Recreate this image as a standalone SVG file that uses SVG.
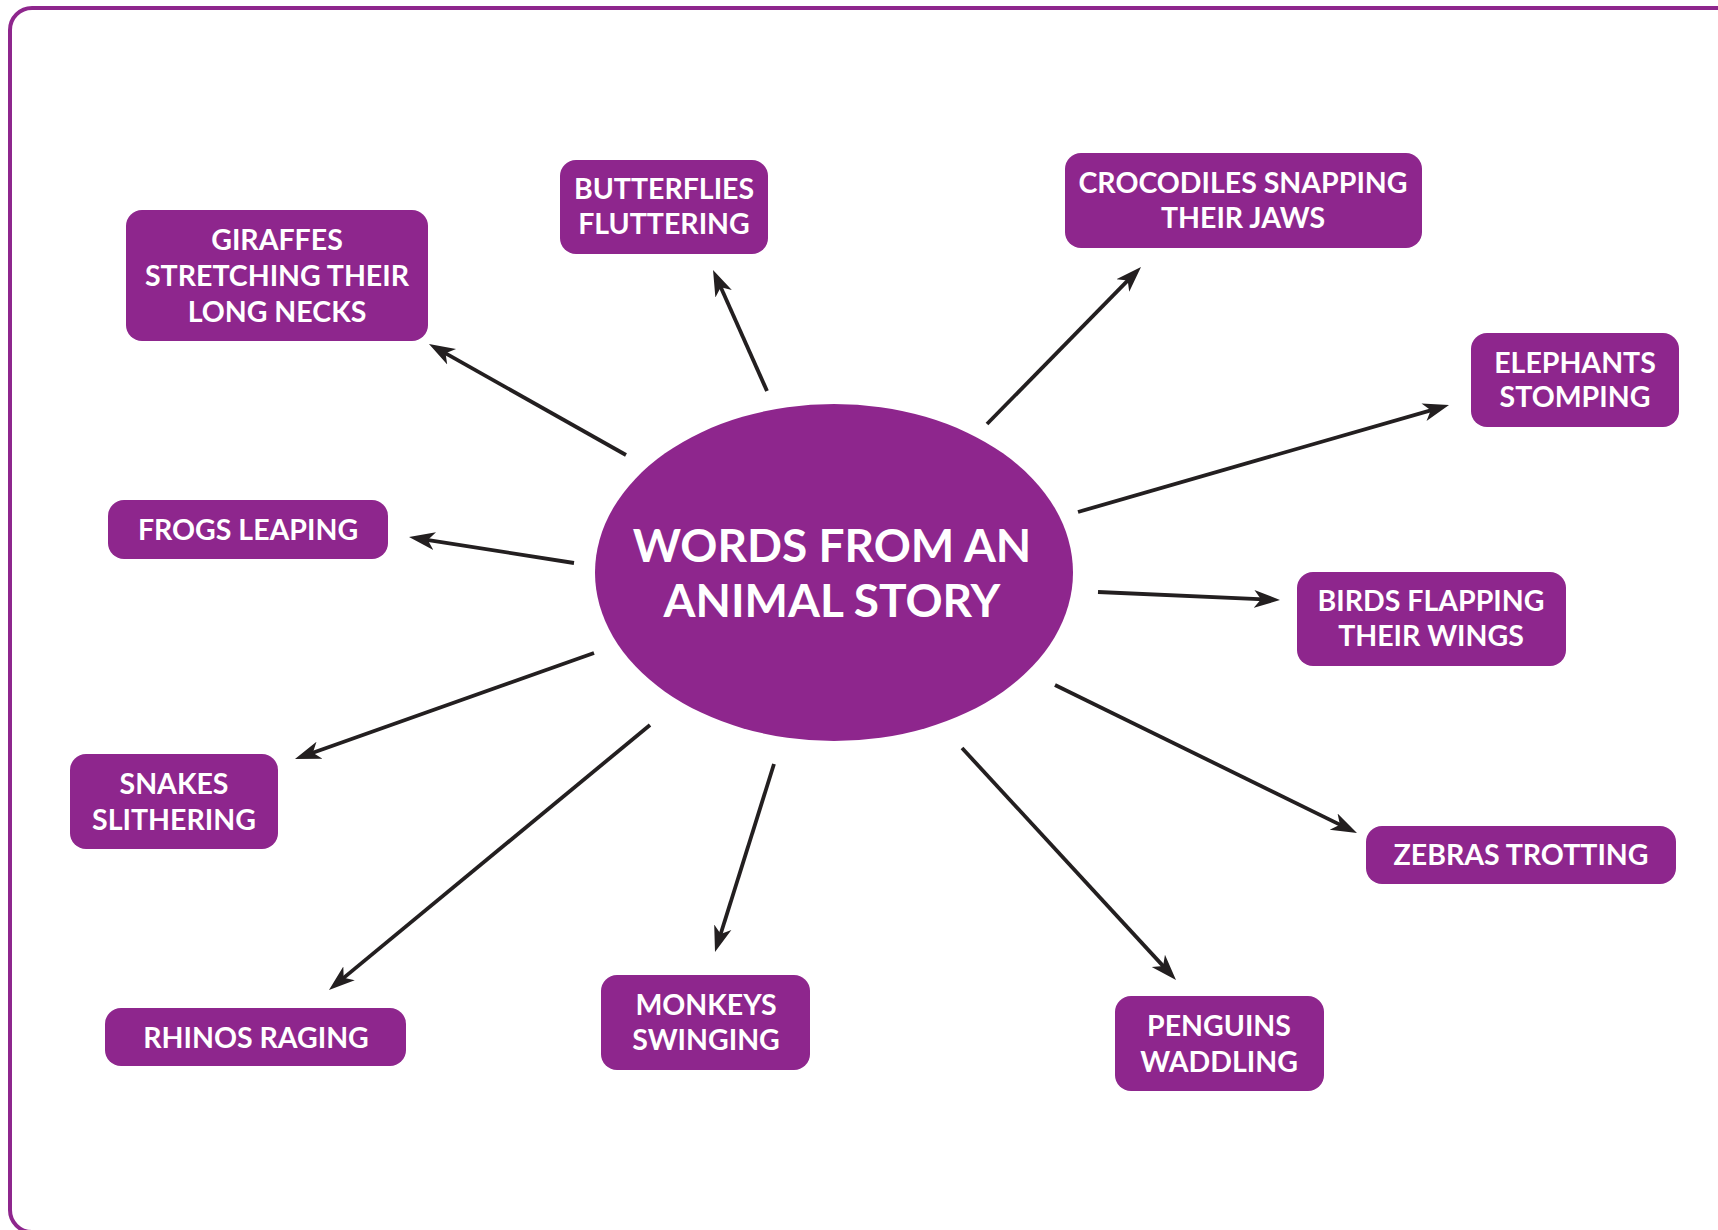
<svg xmlns="http://www.w3.org/2000/svg" width="1718" height="1230" viewBox="0 0 1718 1230">
<style>
.box{fill:#8e268d;}
.t{font-family:Lato,"Open Sans","Liberation Sans",sans-serif;font-weight:700;fill:#ffffff;text-anchor:middle;font-size:28.5px;}
.big{font-size:46px;}
.ln{stroke:#231f20;stroke-width:3.8;fill:none;marker-end:url(#ah);}
</style>
<defs>
<marker id="ah" markerUnits="userSpaceOnUse" markerWidth="28" markerHeight="22" viewBox="0 0 28 22" refX="16" refY="11" orient="auto">
<path d="M26,11 L0,2 L7,11 L0,20 Z" fill="#231f20"/>
</marker>
</defs>
<rect x="10" y="8" width="1760" height="1224" rx="22" fill="none" stroke="#8e268d" stroke-width="4"/>
<g id="connectors">
<line class="ln" x1="626" y1="455" x2="437.7" y2="348.9"/>
<line class="ln" x1="767" y1="391" x2="717.1" y2="279.1"/>
<line class="ln" x1="987" y1="424" x2="1134" y2="274.1"/>
<line class="ln" x1="1078" y1="512" x2="1439.4" y2="407.8"/>
<line class="ln" x1="1098" y1="592" x2="1270" y2="599.6"/>
<line class="ln" x1="1055" y1="685" x2="1348" y2="828.6"/>
<line class="ln" x1="962" y1="748" x2="1169.2" y2="972.6"/>
<line class="ln" x1="774" y1="764" x2="718" y2="942.5"/>
<line class="ln" x1="650" y1="725" x2="336.7" y2="983.6"/>
<line class="ln" x1="594" y1="653" x2="304.4" y2="755.7"/>
<line class="ln" x1="574" y1="563" x2="418.9" y2="538.6"/>
</g>
<g id="center">
<ellipse cx="834" cy="572.5" rx="239" ry="168.5" class="box"/>
<text class="t big" x="832" y="562">WORDS FROM AN</text>
<text class="t big" x="832" y="617">ANIMAL STORY</text>
</g>
<g id="giraffes">
<rect class="box" x="126" y="210" width="302" height="131" rx="16"/>
<text class="t" x="277" y="250">GIRAFFES</text>
<text class="t" x="277" y="286">STRETCHING THEIR</text>
<text class="t" x="277" y="322">LONG NECKS</text>
</g>
<g id="butterflies">
<rect class="box" x="560" y="160" width="208" height="94" rx="16"/>
<text class="t" x="664" y="199">BUTTERFLIES</text>
<text class="t" x="664" y="234">FLUTTERING</text>
</g>
<g id="crocodiles">
<rect class="box" x="1065" y="153" width="357" height="95" rx="16"/>
<text class="t" x="1243" y="193">CROCODILES SNAPPING</text>
<text class="t" x="1243" y="228">THEIR JAWS</text>
</g>
<g id="elephants">
<rect class="box" x="1471" y="333" width="208" height="94" rx="16"/>
<text class="t" x="1575" y="373">ELEPHANTS</text>
<text class="t" x="1575" y="407">STOMPING</text>
</g>
<g id="birds">
<rect class="box" x="1297" y="572" width="269" height="94" rx="16"/>
<text class="t" x="1431" y="611">BIRDS FLAPPING</text>
<text class="t" x="1431" y="646">THEIR WINGS</text>
</g>
<g id="zebras">
<rect class="box" x="1366" y="826" width="310" height="58" rx="16"/>
<text class="t" x="1521" y="865">ZEBRAS TROTTING</text>
</g>
<g id="penguins">
<rect class="box" x="1115" y="996" width="209" height="95" rx="16"/>
<text class="t" x="1219" y="1036">PENGUINS</text>
<text class="t" x="1219" y="1072">WADDLING</text>
</g>
<g id="monkeys">
<rect class="box" x="601" y="975" width="209" height="95" rx="16"/>
<text class="t" x="706" y="1015">MONKEYS</text>
<text class="t" x="706" y="1050">SWINGING</text>
</g>
<g id="rhinos">
<rect class="box" x="105" y="1008" width="301" height="58" rx="16"/>
<text class="t" x="256" y="1048">RHINOS RAGING</text>
</g>
<g id="snakes">
<rect class="box" x="70" y="754" width="208" height="95" rx="16"/>
<text class="t" x="174" y="794">SNAKES</text>
<text class="t" x="174" y="830">SLITHERING</text>
</g>
<g id="frogs">
<rect class="box" x="108" y="500" width="280" height="59" rx="16"/>
<text class="t" x="248" y="540">FROGS LEAPING</text>
</g>
</svg>
